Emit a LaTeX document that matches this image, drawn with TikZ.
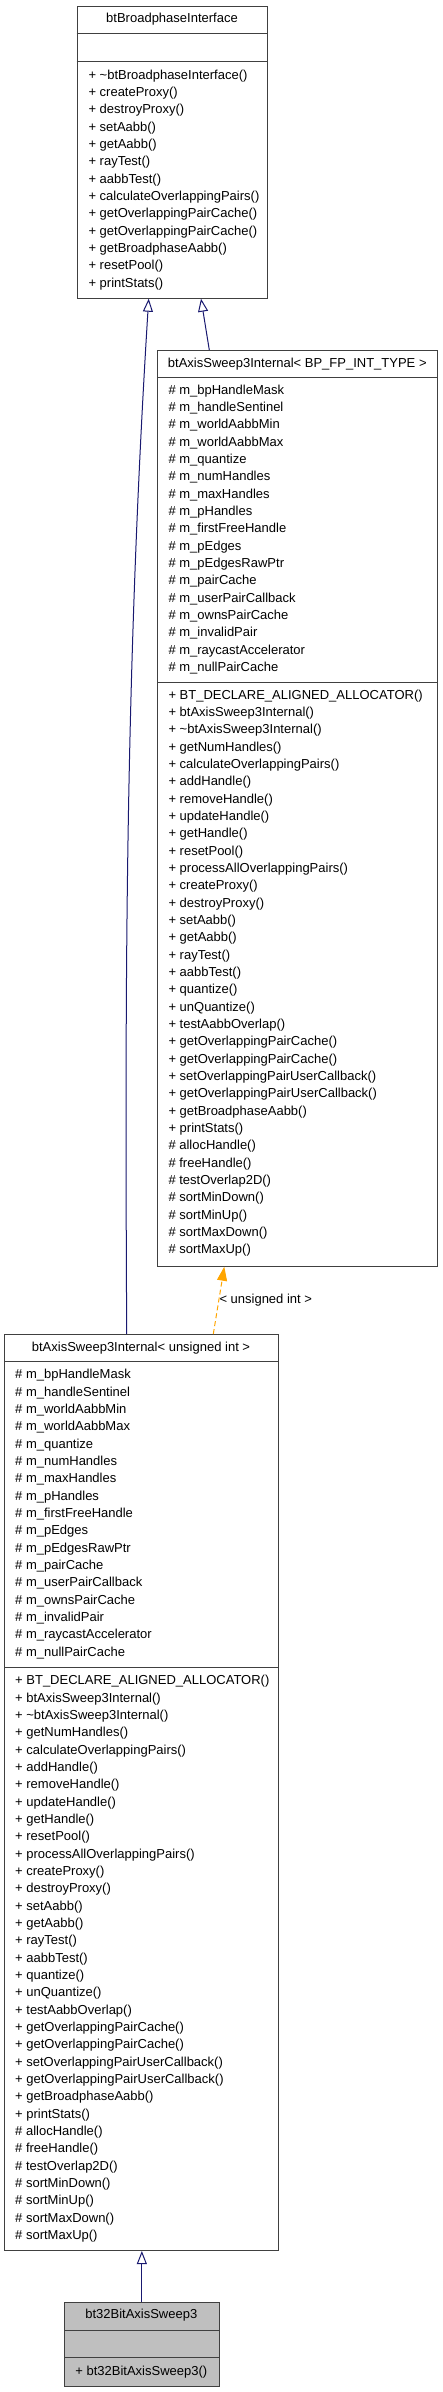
\documentclass[tikz,border=0pt]{standalone}
\usepackage{fontspec}
\setmainfont{Liberation Sans}
\usetikzlibrary{arrows.meta,calc}
\definecolor{edgeblue}{HTML}{191970}
\definecolor{edgeorange}{HTML}{FFA500}
\definecolor{boxline}{HTML}{404040}
\definecolor{leafgray}{HTML}{BFBFBF}
\newcommand\memberfont{\fontsize{13}{15}\selectfont}
\newcommand\ifacelist{%
+ \textasciitilde{}btBroadphaseInterface(),
+ createProxy(),
+ destroyProxy(),
+ setAabb(),
+ getAabb(),
+ rayTest(),
+ aabbTest(),
+ calculateOverlappingPairs(),
+ getOverlappingPairCache(),
+ getOverlappingPairCache(),
+ getBroadphaseAabb(),
+ resetPool(),
+ printStats()}
\newcommand\attrlist{%
\# m\_bpHandleMask,
\# m\_handleSentinel,
\# m\_worldAabbMin,
\# m\_worldAabbMax,
\# m\_quantize,
\# m\_numHandles,
\# m\_maxHandles,
\# m\_pHandles,
\# m\_firstFreeHandle,
\# m\_pEdges,
\# m\_pEdgesRawPtr,
\# m\_pairCache,
\# m\_userPairCallback,
\# m\_ownsPairCache,
\# m\_invalidPair,
\# m\_raycastAccelerator,
\# m\_nullPairCache}
\newcommand\methlist{%
+ BT\_DECLARE\_ALIGNED\_ALLOCATOR(),
+ btAxisSweep3Internal(),
+ \textasciitilde{}btAxisSweep3Internal(),
+ getNumHandles(),
+ calculateOverlappingPairs(),
+ addHandle(),
+ removeHandle(),
+ updateHandle(),
+ getHandle(),
+ resetPool(),
+ processAllOverlappingPairs(),
+ createProxy(),
+ destroyProxy(),
+ setAabb(),
+ getAabb(),
+ rayTest(),
+ aabbTest(),
+ quantize(),
+ unQuantize(),
+ testAabbOverlap(),
+ getOverlappingPairCache(),
+ getOverlappingPairCache(),
+ setOverlappingPairUserCallback(),
+ getOverlappingPairUserCallback(),
+ getBroadphaseAabb(),
+ printStats(),
\# allocHandle(),
\# freeHandle(),
\# testOverlap2D(),
\# sortMinDown(),
\# sortMinUp(),
\# sortMaxDown(),
\# sortMaxUp()}
\newcommand\memberrows[4]{%
  \foreach \mtext [count=\idx from 0] in #4 {
    \node[member] (#1\idx) at (#2, #3+\idx*17.33) {\mtext};
  }}
\begin{document}
\begin{tikzpicture}[x=1pt,y=-1pt,
  classbox/.style={draw=boxline, line width=1pt, rectangle, inner sep=0pt, anchor=north west},
  divider/.style={draw=boxline, line width=1pt},
  member/.style={anchor=base west, inner sep=0pt, font=\memberfont, text=black},
  title/.style={anchor=base, inner sep=0pt, font=\memberfont, text=black},
  inherit/.style={draw=edgeblue, line width=1pt, -{Triangle[open, length=13pt, width=10pt]}},
  template/.style={draw=edgeorange, line width=1pt, dash pattern=on 5pt off 3pt, -{Triangle[length=14pt, width=10pt, fill=edgeorange]}}]
\fill[white] (0,0) rectangle (443,2392);
\useasboundingbox (0,0) rectangle (443,2392);
% --- btBroadphaseInterface
\node[classbox, minimum width=190.6pt, minimum height=292pt] (A) at (76.7,5.7) {};
\draw[divider] (76.7,33.3) -- (267.3,33.3);
\draw[divider] (76.7,61.7) -- (267.3,61.7);
\node[title] (At) at (172,23) {btBroadphaseInterface};
\memberrows{Am}{88.3}{79.2}{\ifacelist}
% --- btAxisSweep3Internal< BP_FP_INT_TYPE >
\node[classbox, minimum width=280pt, minimum height=915.7pt] (B) at (157.3,350) {};
\draw[divider] (157.3,377.7) -- (437.3,377.7);
\draw[divider] (157.3,682.7) -- (437.3,682.7);
\node[title] (Bt) at (297.3,367.5) {btAxisSweep3Internal< BP\_FP\_INT\_TYPE >};
\memberrows{Ba}{168.3}{394.2}{\attrlist}
\memberrows{Bm}{168.3}{699.2}{\methlist}
% --- btAxisSweep3Internal< unsigned int >
\node[classbox, minimum width=273.4pt, minimum height=916pt] (C) at (4.3,1334) {};
\draw[divider] (4.3,1361.7) -- (277.7,1361.7);
\draw[divider] (4.3,1667.3) -- (277.7,1667.3);
\node[title] (Ct) at (141,1351.2) {btAxisSweep3Internal< unsigned int >};
\memberrows{Ca}{15}{1378.9}{\attrlist}
\memberrows{Cm}{15}{1684.9}{\methlist}
% --- bt32BitAxisSweep3
\node[classbox, fill=leafgray, minimum width=154.7pt, minimum height=84pt] (D) at (64,2301.7) {};
\draw[divider] (64,2330) -- (218.7,2330);
\draw[divider] (64,2357.7) -- (218.7,2357.7);
\node[title] (Dt) at (141.3,2318.2) {bt32BitAxisSweep3};
\node[title] (Dm) at (141.3,2375.9) {+ bt32BitAxisSweep3()};
% --- connectors
\draw[inherit] ($(C.north west)+(122.4,0)$) .. controls (125,1000) and (125,680) .. ($(A.south west)+(72,0)$);
\draw[inherit] ($(B.north west)+(52,0)$) -- ($(A.south west)+(124.3,0)$);
\draw[template] ($(C.north west)+(209,0)$) -- ($(B.south west)+(67,0)$);
\node[member] (lbl) at (219.3,1303) {< unsigned int >};
\draw[inherit] (D.north) -- (D.north |- C.south);
\end{tikzpicture}
\end{document}
